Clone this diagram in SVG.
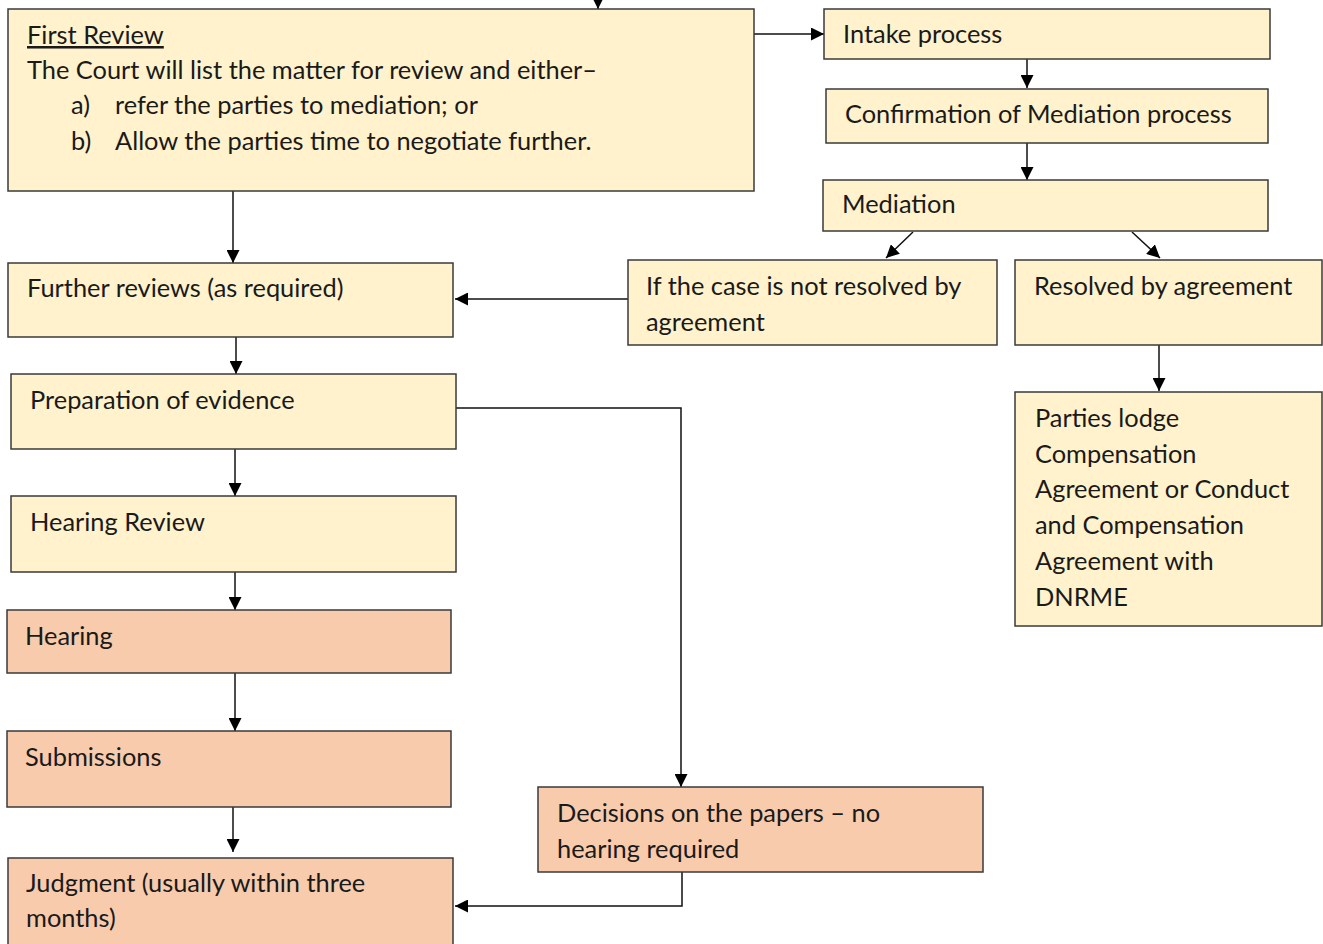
<svg xmlns="http://www.w3.org/2000/svg" width="1323" height="944" viewBox="0 0 1323 944">
<defs>
<style>
.y{fill:#FFF2CC;stroke:#3a3a3a;stroke-width:1.5}
.o{fill:#F8CBAD;stroke:#3a3a3a;stroke-width:1.5}
text{font-family:Lato,"Open Sans",sans-serif;font-size:25.4px;fill:#1a1a1a}
.c{fill:none;stroke:#111;stroke-width:1.5}
</style>
<marker id="ah" viewBox="0 0 10 10" refX="10" refY="5" markerWidth="13" markerHeight="13" markerUnits="userSpaceOnUse" orient="auto"><path d="M0,0 L10,5 L0,10 z" fill="#000"/></marker>
</defs>
<rect width="1323" height="944" fill="#fff"/>
<g id="connectors">
<path class="c" d="M598,0 V9" marker-end="url(#ah)"/>
<path class="c" d="M754,34 H824" marker-end="url(#ah)"/>
<path class="c" d="M1027,59 V88" marker-end="url(#ah)"/>
<path class="c" d="M1027,143 V180" marker-end="url(#ah)"/>
<path class="c" d="M913,232 L886,258" marker-end="url(#ah)"/>
<path class="c" d="M1132,232 L1160,258" marker-end="url(#ah)"/>
<path class="c" d="M628,299 H455" marker-end="url(#ah)"/>
<path class="c" d="M233,191 V263" marker-end="url(#ah)"/>
<path class="c" d="M236,337 V374" marker-end="url(#ah)"/>
<path class="c" d="M456,408 H681 V787" marker-end="url(#ah)"/>
<path class="c" d="M235,449 V496" marker-end="url(#ah)"/>
<path class="c" d="M235,572 V610" marker-end="url(#ah)"/>
<path class="c" d="M235,673 V731" marker-end="url(#ah)"/>
<path class="c" d="M233,807 V852" marker-end="url(#ah)"/>
<path class="c" d="M682,872 V906 H455" marker-end="url(#ah)"/>
<path class="c" d="M1159,345 V391" marker-end="url(#ah)"/>
</g>
<g id="first-review">
<rect class="y" x="8" y="9" width="746" height="182"/>
<text x="27" y="44" text-decoration="underline">First Review</text>
<text x="27" y="79">The Court will list the matter for review and either–</text>
<text x="71" y="114">a)</text><text x="115" y="114">refer the parties to mediation; or</text>
<text x="71" y="150">b)</text><text x="115" y="150">Allow the parties time to negotiate further.</text>
</g>
<g id="intake">
<rect class="y" x="824" y="9" width="446" height="50"/>
<text x="843" y="43">Intake process</text>
</g>
<g id="confirmation">
<rect class="y" x="826" y="89" width="442" height="54"/>
<text x="845" y="123">Confirmation of Mediation process</text>
</g>
<g id="mediation">
<rect class="y" x="823" y="180" width="445" height="51"/>
<text x="842" y="213">Mediation</text>
</g>
<g id="not-resolved">
<rect class="y" x="628" y="260" width="369" height="85"/>
<text x="646" y="295">If the case is not resolved by</text>
<text x="646" y="331">agreement</text>
</g>
<g id="resolved">
<rect class="y" x="1015" y="260" width="307" height="85"/>
<text x="1034" y="295">Resolved by agreement</text>
</g>
<g id="parties-lodge">
<rect class="y" x="1015" y="392" width="307" height="234"/>
<text x="1035" y="427">Parties lodge</text>
<text x="1035" y="463">Compensation</text>
<text x="1035" y="498">Agreement or Conduct</text>
<text x="1035" y="534">and Compensation</text>
<text x="1035" y="570">Agreement with</text>
<text x="1035" y="606">DNRME</text>
</g>
<g id="further-reviews">
<rect class="y" x="8" y="263" width="445" height="74"/>
<text x="27" y="297">Further reviews (as required)</text>
</g>
<g id="preparation">
<rect class="y" x="11" y="374" width="445" height="75"/>
<text x="30" y="409">Preparation of evidence</text>
</g>
<g id="hearing-review">
<rect class="y" x="11" y="496" width="445" height="76"/>
<text x="30" y="531">Hearing Review</text>
</g>
<g id="hearing">
<rect class="o" x="7" y="610" width="444" height="63"/>
<text x="25" y="645">Hearing</text>
</g>
<g id="submissions">
<rect class="o" x="7" y="731" width="444" height="76"/>
<text x="25" y="766">Submissions</text>
</g>
<g id="judgment">
<rect class="o" x="8" y="858" width="445" height="100"/>
<text x="26" y="892">Judgment (usually within three</text>
<text x="26" y="927">months)</text>
</g>
<g id="decisions">
<rect class="o" x="538" y="787" width="445" height="85"/>
<text x="557" y="822">Decisions on the papers – no</text>
<text x="557" y="858">hearing required</text>
</g>
</svg>
